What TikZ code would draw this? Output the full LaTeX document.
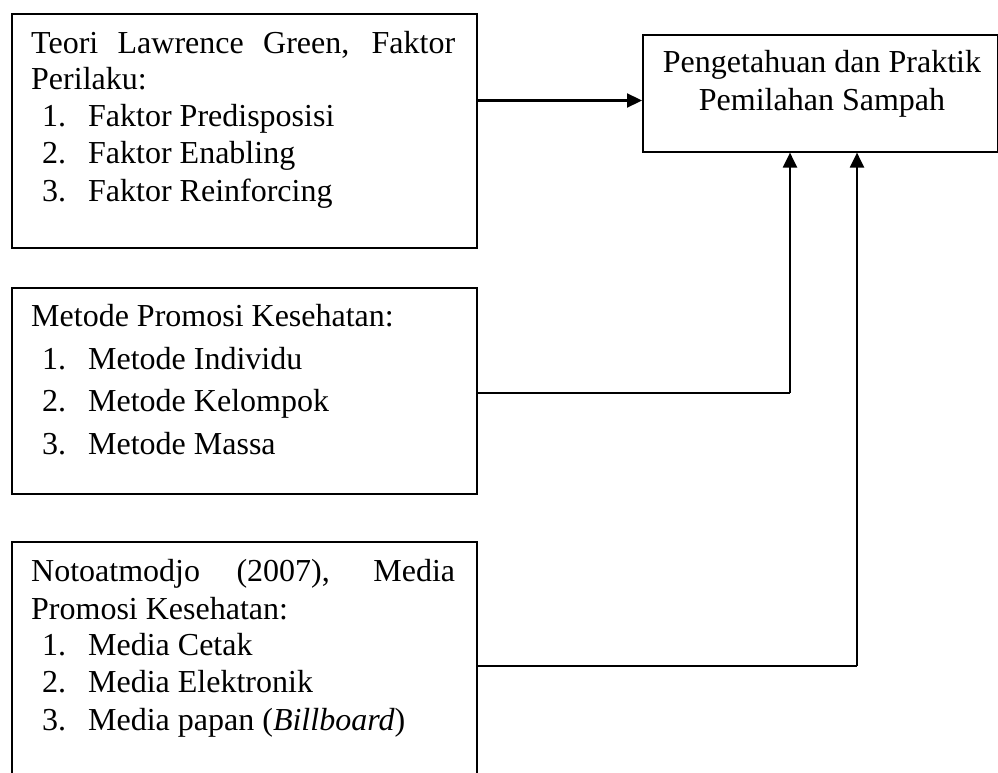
\documentclass[tikz,border=0pt]{standalone}
\usepackage{fontspec}
\setmainfont{Liberation Serif}
\usetikzlibrary{arrows.meta}
\begin{document}
\begin{tikzpicture}[x=1pt,y=-1pt,
  box/.style={draw,line width=1.6pt,rectangle,inner sep=0pt,anchor=north west},
  txt/.style={inner sep=0pt,anchor=base west,font=\fontsize{32}{37}\selectfont},
  ctxt/.style={inner sep=0pt,anchor=base,font=\fontsize{32}{37}\selectfont},
  arr/.style={line width=2.2pt,-{Triangle[length=15pt,width=14pt]}},
  conn/.style={line width=2.2pt}]
\useasboundingbox (0,0) rectangle (998,773);
\clip (0,0) rectangle (998,773);
\fill[white] (0,0) rectangle (998,773);
% boxes
\node[box,minimum width=465pt,minimum height=234pt] (b1) at (11,13) {};
\node[box,minimum width=465pt,minimum height=206pt] (b2) at (11,287) {};
\node[box,minimum width=465pt,minimum height=260pt] (b3) at (11,541) {};
\node[box,minimum width=355pt,minimum height=117pt] (R) at (642,34) {};
% texts box 1
\node[txt] (t1a) at (31,53.3) {\makebox[424pt][s]{Teori Lawrence Green, Faktor}};
\node[txt] (t1b) at (31,90) {Perilaku:};
\node[txt] (t1c) at (42,126.7) {\makebox[46pt][l]{1.}Faktor Predisposisi};
\node[txt] (t1d) at (42,164) {\makebox[46pt][l]{2.}Faktor Enabling};
\node[txt] (t1e) at (42,201.5) {\makebox[46pt][l]{3.}Faktor Reinforcing};
% texts box 2
\node[txt] (t2a) at (31,326.7) {Metode Promosi Kesehatan:};
\node[txt] (t2b) at (42,369) {\makebox[46pt][l]{1.}Metode Individu};
\node[txt] (t2c) at (42,411) {\makebox[46pt][l]{2.}Metode Kelompok};
\node[txt] (t2d) at (42,454) {\makebox[46pt][l]{3.}Metode Massa};
% texts box 3
\node[txt] (t3a) at (31,581.7) {\makebox[424pt][s]{Notoatmodjo (2007), Media}};
\node[txt] (t3b) at (31,619) {Promosi Kesehatan:};
\node[txt] (t3c) at (42,655.5) {\makebox[46pt][l]{1.}Media Cetak};
\node[txt] (t3d) at (42,692) {\makebox[46pt][l]{2.}Media Elektronik};
\node[txt] (t3e) at (42,730) {\makebox[46pt][l]{3.}Media papan (\textit{Billboard})};
% right box text
\node[ctxt] (r1) at (822,73) {Pengetahuan dan Praktik};
\node[ctxt] (r2) at (822,111) {Pemilahan Sampah};
% connectors
\coordinate (j1) at (600,100.5);
\coordinate (j2) at (790,393);
\coordinate (j3) at (857,666);
\draw[arr] (j1 -| b1.east) -- (j1 -| R.west);
\draw[conn] (j2 -| b2.east) -- (j2);
\draw[arr] (j2) -- (j2 |- R.south);
\draw[conn] (j3 -| b3.east) -- (j3);
\draw[arr] (j3) -- (j3 |- R.south);
\end{tikzpicture}
\end{document}
